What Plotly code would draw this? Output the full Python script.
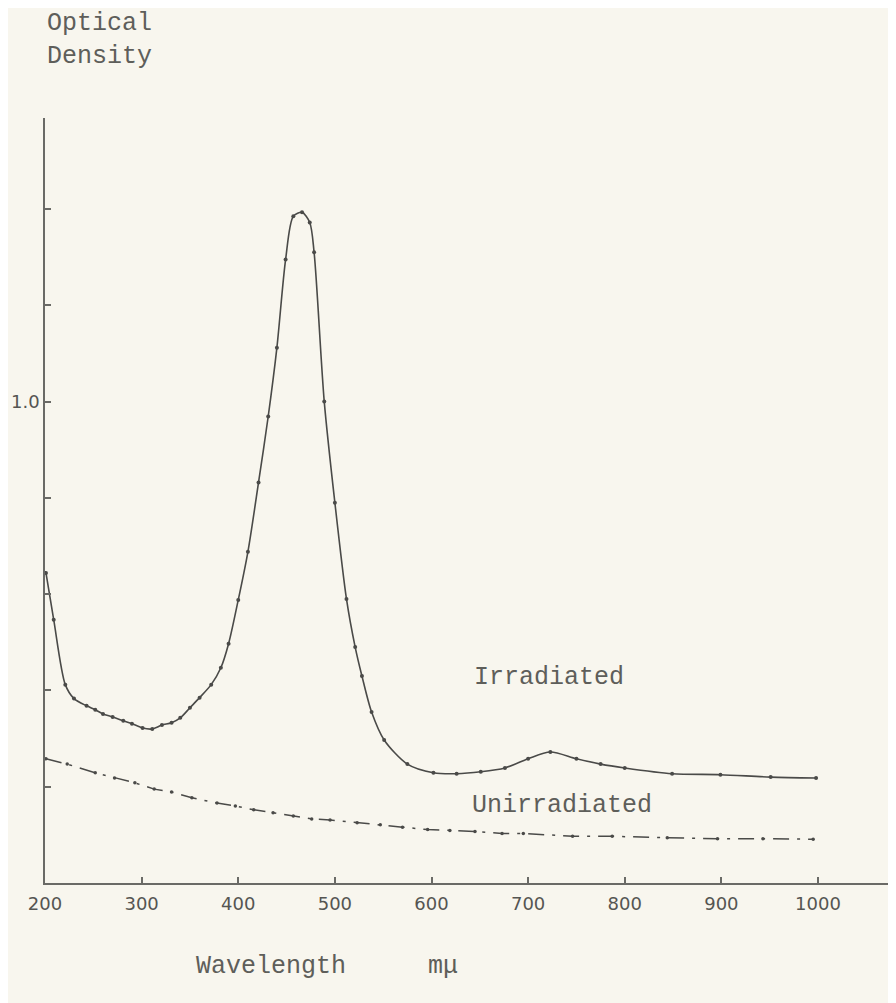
import plotly.graph_objects as go

# Irradiated sample
irr_wavelength = [201, 209, 221, 230, 243, 252, 260, 270, 281, 290, 301, 311, 321, 331, 340, 350,
                  360, 372, 382, 390, 400, 410, 421, 431, 440, 449, 457, 466, 474, 478.5, 489,
                  500, 512, 521, 528, 538, 551, 575, 602, 626, 651, 676, 700, 723, 750, 775,
                  800, 849, 899, 951, 998]
irr_density = [0.644, 0.547, 0.412, 0.383, 0.368, 0.360, 0.351, 0.345, 0.337, 0.331, 0.322, 0.320,
               0.328, 0.333, 0.343, 0.364, 0.385, 0.412, 0.447, 0.497, 0.588, 0.688, 0.832, 0.969,
               1.112, 1.295, 1.385, 1.393, 1.372, 1.31, 1.0, 0.79, 0.59, 0.49, 0.43, 0.355, 0.297,
               0.247, 0.229, 0.227, 0.231, 0.239, 0.258, 0.272, 0.258, 0.247, 0.239, 0.227, 0.225,
               0.220, 0.218]

# Unirradiated sample
unirr_wavelength = [201, 223, 252, 272, 293, 313, 331, 352, 378, 397, 416, 436, 457, 476, 495,
                    523, 547, 570, 596, 619, 645, 673, 695, 746, 787, 844, 896, 943, 995]
unirr_density = [0.258, 0.247, 0.229, 0.218, 0.208, 0.195, 0.189, 0.177, 0.166, 0.160, 0.152,
                 0.146, 0.139, 0.133, 0.131, 0.125, 0.121, 0.116, 0.111, 0.109, 0.107, 0.103,
                 0.103, 0.097, 0.097, 0.094, 0.092, 0.092, 0.091]

x_ticks = [200, 300, 400, 500, 600, 700, 800, 900, 1000]
x_ticklabels = ["200", "300", "400", "500", "600", "700", "800", "900", "1000"]
y_ticks = [0.2, 0.4, 0.6, 0.8, 1.0, 1.2, 1.4]
y_ticklabels = ["", "", "", "", "1.0", "", ""]

INK = "#4a4a48"
TYPE = "#5e5e5a"
PAPER = "#f8f6ee"
MONO = "Liberation Mono, Courier New, monospace"

fig = go.Figure()
fig.add_trace(go.Scatter(
    x=irr_wavelength, y=irr_density, mode="lines+markers",
    line=dict(color=INK, width=1.6, shape="spline", smoothing=0.8),
    marker=dict(size=4, color=INK), showlegend=False))
fig.add_trace(go.Scatter(
    x=unirr_wavelength, y=unirr_density, mode="lines+markers",
    line=dict(color=INK, width=1.5, dash="16px,8px,3px,8px"),
    marker=dict(size=3.5, color=INK), showlegend=False))

fig.update_layout(
    width=896, height=1003,
    margin=dict(l=37, r=0, t=110, b=128),
    paper_bgcolor=PAPER, plot_bgcolor=PAPER,
    xaxis=dict(range=[200, 1089], showgrid=False, zeroline=False,
               showline=True, linecolor="#6a6a66", linewidth=1.5,
               ticks="inside", ticklen=6, tickcolor="#6a6a66", tickwidth=1.5,
               tickvals=x_ticks, ticktext=x_ticklabels,
               tickfont=dict(family="DejaVu Sans", size=18, color="#555552"),
               ticklabelstandoff=4),
    yaxis=dict(range=[0, 1.589], showgrid=False, zeroline=False,
               showline=True, linecolor="#6a6a66", linewidth=1.5,
               ticks="inside", ticklen=6, tickcolor="#6a6a66", tickwidth=1.5,
               tickvals=y_ticks, ticktext=y_ticklabels,
               tickfont=dict(family="DejaVu Sans", size=18, color="#555552")),
    annotations=[
        dict(text="Optical<br>Density", xref="paper", yref="paper", x=0.0, y=1.102,
             xanchor="left", yanchor="middle", align="left", showarrow=False,
             font=dict(family=MONO, size=25, color=TYPE)),
        dict(text="Irradiated", xref="x", yref="y", x=722, y=0.427, showarrow=False,
             font=dict(family=MONO, size=25, color=TYPE)),
        dict(text="Unirradiated", xref="x", yref="y", x=735, y=0.161, showarrow=False,
             font=dict(family=MONO, size=25, color=TYPE)),
        dict(text="Wavelength", xref="x", yref="paper", x=434, y=-0.131, showarrow=False,
             font=dict(family=MONO, size=25, color=TYPE)),
        dict(text="mμ", xref="x", yref="paper", x=612, y=-0.131, showarrow=False,
             font=dict(family=MONO, size=25, color=TYPE)),
    ],
)

fig.write_html("out.html")
